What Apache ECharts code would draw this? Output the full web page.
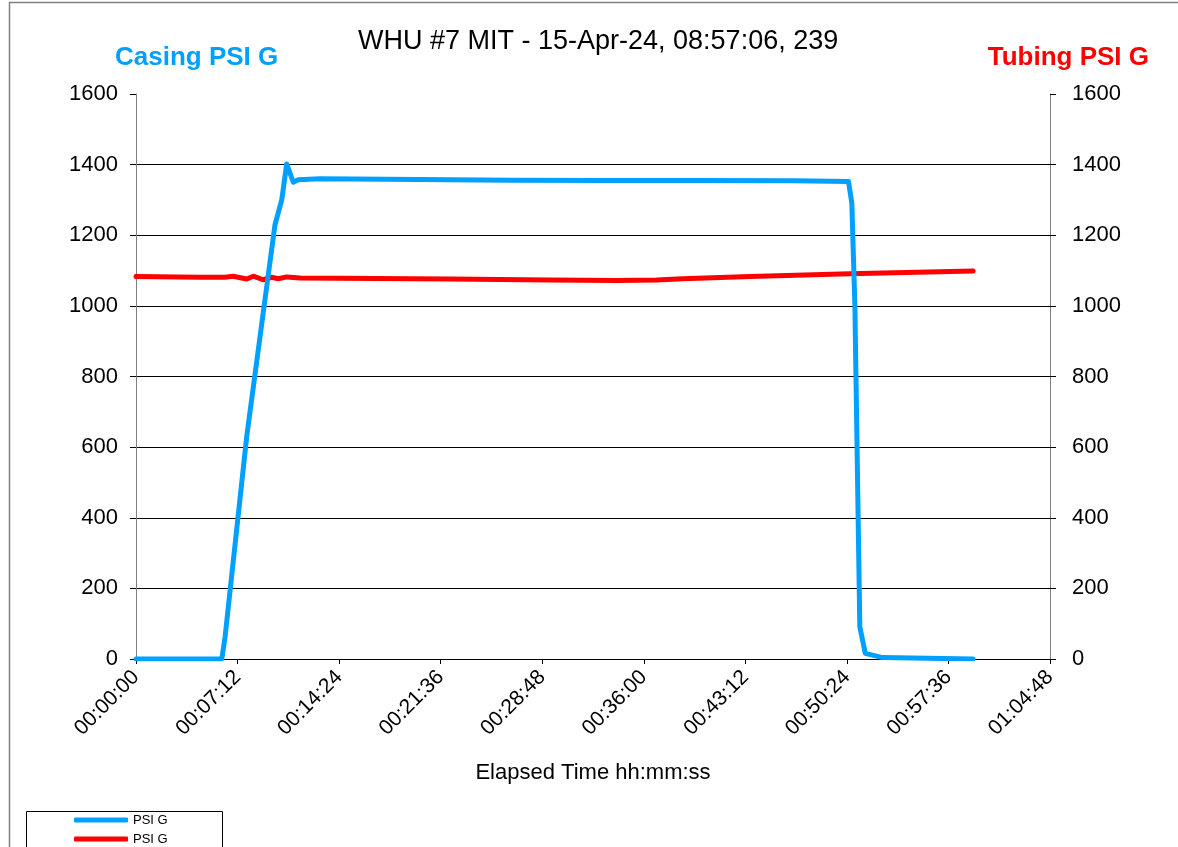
<!DOCTYPE html>
<html>
<head>
<meta charset="utf-8">
<script src="https://cdn.jsdelivr.net/npm/echarts@6/dist/echarts.min.js"></script>
<style>
html,body{margin:0;padding:0;background:#fff;}
#chart{width:1178px;height:847px;}
</style>
</head>
<body>
<div id="chart"></div>
<script>
// ---- data (elapsed seconds, PSI G) ----
const chartTitle = 'WHU #7 MIT - 15-Apr-24, 08:57:06, 239';
const leftAxisTitle = 'Casing PSI G';
const rightAxisTitle = 'Tubing PSI G';
const xAxisTitle = 'Elapsed Time hh:mm:ss';
const seriesNames = ['PSI G', 'PSI G '];

const casingTimes = [0, 365, 379, 471, 591, 620, 641, 669, 690, 783, 1200, 1600, 2000, 2400, 2800, 3031, 3045, 3058, 3079, 3102, 3176, 3561];
const casingPsi   = [0, 0, 63, 630, 1229, 1300, 1402, 1350, 1357, 1360, 1358, 1356, 1355, 1355, 1354, 1352, 1291, 1000, 91, 16, 4, 0];

const tubingTimes = [0, 272, 379, 413, 471, 499, 541, 577, 605, 641, 698, 1336, 1761, 2045, 2215, 2327, 2612, 3037, 3561];
const tubingPsi   = [1083, 1081, 1081, 1084, 1076, 1084, 1074, 1081, 1077, 1082, 1079, 1076, 1073, 1072, 1073, 1077, 1083, 1091, 1099];

const xMin = 0, xMax = 3888, xStep = 432;   // 00:07:12 steps
const yMin = 0, yMax = 1600, yStep = 200;

const BLUE = '#00A0FF', RED = '#FF0000';
const FONT = '"Liberation Sans", Arial, sans-serif';

function hms(v){
  const s = Math.round(v);
  const h = Math.floor(s/3600), m = Math.floor((s%3600)/60), ss = s%60;
  const p = n => String(n).padStart(2,'0');
  return p(h)+':'+p(m)+':'+p(ss);
}

const casingData = casingTimes.map((t,i)=>[t, casingPsi[i]]);
const tubingData = tubingTimes.map((t,i)=>[t, tubingPsi[i]]);

const chart = echarts.init(document.getElementById('chart'), null, {renderer:'canvas'});
const yLabel = {fontSize:22, color:'#000', fontFamily:FONT, formatter: v => String(v)};
const yCommon = {
  type:'value', min:yMin, max:yMax, interval:yStep,
  axisLine:{show:true, lineStyle:{color:'#808080', width:1}},
  axisTick:{show:true, length:6, lineStyle:{color:'#000'}}
};
chart.setOption({
  animation:false,
  backgroundColor:'#fff',
  textStyle:{fontFamily:FONT},
  title:[
    {text:chartTitle, left:353, top:23, textStyle:{fontSize:27, fontWeight:'normal', color:'#000', fontFamily:FONT}},
    {text:leftAxisTitle, left:110, top:40, textStyle:{fontSize:26, fontWeight:'bold', color:BLUE, fontFamily:FONT}},
    {text:rightAxisTitle, right:24, top:40, textStyle:{fontSize:26, fontWeight:'bold', color:RED, fontFamily:FONT}}
  ],
  legend:{
    orient:'vertical', left:74, top:813, padding:0,
    itemWidth:54, itemHeight:5, itemGap:5, icon:'roundRect',
    formatter: n => n.trim(),
    textStyle:{fontSize:13, lineHeight:14, color:'#000', fontFamily:FONT},
    data:seriesNames
  },
  grid:{left:136, right:128, top:94, bottom:188, containLabel:false},
  xAxis:{
    type:'value', min:xMin, max:xMax, interval:xStep,
    name:xAxisTitle, nameLocation:'middle', nameGap:103,
    nameTextStyle:{fontSize:22, color:'#000', fontFamily:FONT},
    axisLine:{show:true, onZero:false, lineStyle:{color:'#000', width:1}},
    axisTick:{show:true, length:5, lineStyle:{color:'#000'}},
    axisLabel:{rotate:45, fontSize:21, color:'#000', margin:15, formatter:hms, fontFamily:FONT, showMaxLabel:true, showMinLabel:true},
    splitLine:{show:false}
  },
  yAxis:[
    Object.assign({}, yCommon, {position:'left', axisLabel:Object.assign({}, yLabel, {margin:18}),
      splitLine:{show:true, showMaxLine:false, lineStyle:{color:'#000', width:1}}}),
    Object.assign({}, yCommon, {position:'right', axisLabel:Object.assign({}, yLabel, {margin:22}),
      splitLine:{show:false}})
  ],
  series:[
    {name:seriesNames[0], type:'line', yAxisIndex:0, data:casingData, showSymbol:false, symbol:'none',
      lineStyle:{color:BLUE, width:5, cap:'round', join:'round'}, itemStyle:{color:BLUE}, z:3},
    {name:seriesNames[1], type:'line', yAxisIndex:1, data:tubingData, showSymbol:false, symbol:'none',
      lineStyle:{color:RED, width:5, cap:'round', join:'round'}, itemStyle:{color:RED}, z:2}
  ],
  graphic:[
    {type:'rect', shape:{x:9.5, y:2.5, width:1200, height:900}, style:{fill:'none', stroke:'#808080', lineWidth:1.5}, silent:true, z:-1},
    {type:'rect', shape:{x:26.5, y:811.5, width:196, height:60}, style:{fill:'none', stroke:'#000', lineWidth:1}, silent:true, z:-1}
  ]
});
</script>
</body>
</html>
